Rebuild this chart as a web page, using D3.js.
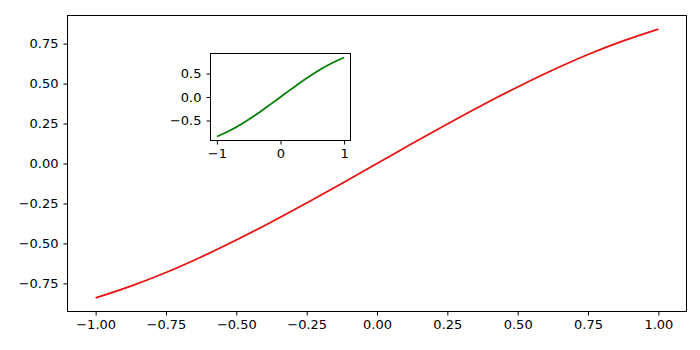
<!DOCTYPE html>
<html>
<head>
<meta charset="utf-8">
<script src="https://cdn.jsdelivr.net/npm/d3@7"></script>
<style>
  body { margin: 0; background: #fff; }
  svg { display: block; }
  .domain { display: none; }
</style>
</head>
<body>
<div id="chart"></div>
<script>
// values
const xValues = [-1, -0.875, -0.75, -0.625, -0.5, -0.375, -0.25, -0.125, 0,
                 0.125, 0.25, 0.375, 0.5, 0.625, 0.75, 0.875, 1];
const yValues = [-0.841, -0.767, -0.682, -0.585, -0.479, -0.366, -0.247, -0.125, 0,
                 0.125, 0.247, 0.366, 0.479, 0.585, 0.682, 0.767, 0.841];
const mainXTicks = [-1, -0.75, -0.5, -0.25, 0, 0.25, 0.5, 0.75, 1];
const mainYTicks = [-0.75, -0.5, -0.25, 0, 0.25, 0.5, 0.75];
const insetXTicks = [-1, 0, 1];
const insetYTicks = [-0.5, 0, 0.5];

const points = xValues.map((x, i) => ({x: x, y: yValues[i]}));

const svg = d3.select('#chart').append('svg')
    .attr('width', 700)
    .attr('height', 350);

const minus = s => s.replace('-', '\u2212');

function styleAxis(g) {
    g.attr('font-family', '"DejaVu Sans", sans-serif').attr('font-size', 13);
    g.selectAll('line').attr('stroke', '#000');
    g.selectAll('text').attr('fill', '#000');
}

function drawAxes(box, xTicks, yTicks, xFmt, yFmt, color) {
    const x = d3.scaleLinear().domain([-1.1, 1.1]).range([box.left, box.right]);
    const y = d3.scaleLinear().domain([-0.926, 0.926]).range([box.bottom, box.top]);

    svg.append('g')
        .attr('transform', `translate(0,${box.bottom})`)
        .call(d3.axisBottom(x).tickValues(xTicks).tickSize(4).tickPadding(4)
            .tickFormat(d => minus(xFmt(d))))
        .call(styleAxis);

    svg.append('g')
        .attr('transform', `translate(${box.left},0)`)
        .call(d3.axisLeft(y).tickValues(yTicks).tickSize(4).tickPadding(5)
            .tickFormat(d => minus(yFmt(d))))
        .call(styleAxis);

    const line = d3.line()
        .x(d => x(d.x))
        .y(d => y(d.y))
        .curve(d3.curveCatmullRom);

    svg.append('path')
        .datum(points)
        .attr('fill', 'none')
        .attr('stroke', color)
        .attr('stroke-width', 1.8)
        .attr('d', line);

    svg.append('rect')
        .attr('x', box.left)
        .attr('y', box.top)
        .attr('width', box.right - box.left)
        .attr('height', box.bottom - box.top)
        .attr('fill', 'none')
        .attr('stroke', '#000')
        .attr('stroke-width', 1);
}

// main axes
drawAxes({left: 67.5, right: 686.5, top: 15.5, bottom: 311.5},
    mainXTicks, mainYTicks, d3.format('.2f'), d3.format('.2f'), '#e8110f');

// inset
svg.append('rect')
    .attr('x', 210).attr('y', 53).attr('width', 140).attr('height', 87)
    .attr('fill', '#fff');
drawAxes({left: 210.5, right: 350.5, top: 53.5, bottom: 140.5},
    insetXTicks, insetYTicks, d3.format('d'), d3.format('.1f'), '#008000');
</script>
</body>
</html>
